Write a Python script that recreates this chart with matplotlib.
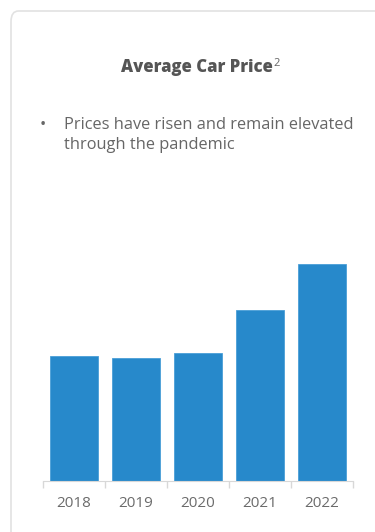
import matplotlib.pyplot as plt
from matplotlib.patches import FancyBboxPatch

plt.rcParams['font.family'] = ['Open Sans', 'DejaVu Sans']

# average price per year (thousand USD)
years = ['2018', '2019', '2020', '2021', '2022']
prices = [20.0, 19.7, 20.5, 27.4, 34.8]

title = 'Average Car Price'
note = 'Prices have risen and remain elevated\nthrough the pandemic'

W, H = 375, 532
fig = plt.figure(figsize=(W / 100, H / 100), dpi=100)

# card outline
card = FancyBboxPatch((11 / W, -0.05), 1.0, 1 - 11 / H + 0.05,
                      boxstyle='round,pad=0,rounding_size=0.02',
                      transform=fig.transFigure, facecolor='white',
                      edgecolor='#e2e2e2', linewidth=1.2, zorder=-5)
fig.patches.append(card)

t = fig.text(121 / W, 1 - 67 / H, title, fontsize=12, fontweight='heavy',
             color='#555555', ha='left', va='center')
fig.canvas.draw()
bb = t.get_window_extent()
fig.text((bb.x1 + 1) / (W), 1 - 63 / H, '2', fontsize=8, color='#666666',
         ha='left', va='center')

fig.text(43 / W, 1 - 125 / H, '•', fontsize=12, color='#666666',
         ha='center', va='center')
fig.text(64 / W, 1 - 117 / H, note, fontsize=11.8, color='#666666',
         ha='left', va='top', linespacing=1.3)

ax = fig.add_axes([43 / W, 1 - 480.7 / H, 310 / W, 240 / H], zorder=2)
x = range(len(years))
ax.bar(x, prices, width=0.77, color='#2789cb', edgecolor='#4a9fd8', linewidth=0.6)
ax.set_xlim(-0.5, len(years) - 0.5)
ax.set_ylim(0, 34.8 * 240 / 216.4)
ax.set_xticks([i - 0.5 for i in range(len(years) + 1)], minor=False)
ax.set_xticklabels([])
ax.set_xticks(list(x), minor=True)
ax.set_xticklabels(years, minor=True)
ax.tick_params(axis='x', which='major', length=5, color='#d8d8d8', width=1)
ax.tick_params(axis='x', which='minor', length=0, pad=11, labelsize=11,
               labelcolor='#6b6b6b')
ax.set_yticks([])
for s in ['top', 'right', 'left']:
    ax.spines[s].set_visible(False)
ax.spines['bottom'].set_color('#d8d8d8')
ax.patch.set_alpha(0)

fig.savefig('out.png', dpi=100)
